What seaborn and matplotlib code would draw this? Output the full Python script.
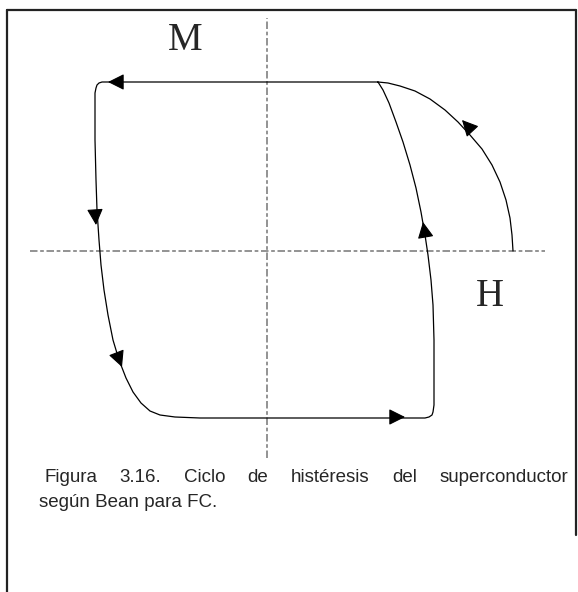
import numpy as np
import seaborn as sns
import matplotlib.pyplot as plt

# datos del ciclo (H, M), origen en el cruce de ejes
virgin_h = [246, 245, 243, 239, 233, 225, 215, 203, 191, 178, 163, 148, 133, 121, 111]
virgin_m = [0, 16, 33, 51, 69, 86, 102, 116, 129, 141, 152, 160, 165, 168, 169]

loop_h = [111, -157, -165, -168, -170, -171, -172, -172, -172, -171, -170, -168, -166, -163,
          -159, -154, -148, -141, -134, -126, -117, -107, -92, -67, 158, 162, 165, 166, 167,
          167, 167, 166, 164, 161, 158, 154, 149, 143, 136, 129, 122, 116, 111]
loop_m = [169, 169, 169, 168, 166, 163, 158, 151, 111, 71, 41, 11, -14, -39,
          -64, -89, -109, -127, -141, -152, -160, -164, -166, -167, -167, -166, -164, -161, -154,
          -129, -89, -54, -29, -4, 16, 39, 63, 86, 109, 129, 148, 161, 169]

# puntas de flecha (H, M) y curva a la que pertenecen
arrow_h = [-159, -171, -145, 138, 156, 195]
arrow_m = [169, 26, -116, -166, 29, 131]
arrow_curve = ['loop', 'loop', 'loop', 'loop', 'loop', 'virgin']

axis_h_span = [-237, 278]
axis_m_span = [-207, 233]

caption_1 = 'Figura 3.16. Ciclo de histéresis del superconductor'
caption_2 = 'según Bean para FC.'

sns.set_style('white')
plt.rcParams['font.family'] = ['Liberation Sans', 'DejaVu Sans']

W, H = 578, 592
fig = plt.figure(figsize=(W / 100, H / 100), dpi=100)
ax = fig.add_axes([0, 0, 1, 1])
ax.set_xlim(-267, W - 267)
ax.set_ylim(251 - H, 251)
ax.axis('off')

# ejes punteados
dash = (0, (4.5, 1.6, 2.2, 1.6))
ax.plot(axis_h_span, [0, 0], color='#808080', lw=1.2, linestyle=dash)
ax.plot([0, 0], axis_m_span, color='#808080', lw=1.2, linestyle=dash)

# curvas
sns.lineplot(x=virgin_h, y=virgin_m, sort=False, estimator=None, color='black', lw=0.9, ax=ax)
sns.lineplot(x=loop_h, y=loop_m, sort=False, estimator=None, color='black', lw=0.9, ax=ax)

curves = {'virgin': (np.array(virgin_h, float), np.array(virgin_m, float)),
          'loop': (np.array(loop_h, float), np.array(loop_m, float))}

for ah, am, name in zip(arrow_h, arrow_m, arrow_curve):
    ch, cm = curves[name]
    # segmento mas cercano para la direccion
    best, d = None, None
    for i in range(len(ch) - 1):
        p0 = np.array([ch[i], cm[i]])
        p1 = np.array([ch[i + 1], cm[i + 1]])
        seg = p1 - p0
        t = np.clip(np.dot([ah, am] - p0, seg) / np.dot(seg, seg), 0, 1)
        dist = np.linalg.norm(p0 + t * seg - [ah, am])
        if best is None or dist < best:
            best, d = dist, seg / np.linalg.norm(seg)
    tail = (ah - d[0] * 14, am - d[1] * 14)
    ax.annotate('', xy=(ah, am), xytext=tail,
                arrowprops=dict(arrowstyle='-|>,head_length=1.0,head_width=0.5',
                                mutation_scale=10, color='black', lw=0.8,
                                shrinkA=0, shrinkB=0))

ax.text(-82, 211, 'M', fontsize=28, family=['Liberation Serif', 'DejaVu Serif'],
        ha='center', va='center')
ax.text(223, -46, 'H', fontsize=28, family=['Liberation Serif', 'DejaVu Serif'],
        ha='center', va='center')

# marco
fig.add_artist(plt.Line2D([7 / W, 7 / W], [0, 1 - 10 / H], color='#222222', lw=1.6))
fig.add_artist(plt.Line2D([7 / W, 576 / W], [1 - 10 / H, 1 - 10 / H], color='#222222', lw=1.6))
fig.add_artist(plt.Line2D([576 / W, 576 / W], [1 - 10 / H, 1 - 535 / H], color='#222222', lw=1.6))

# pie de figura justificado
renderer = fig.canvas.get_renderer()
words = caption_1.split()
objs = [fig.text(0, 0, w, fontsize=13.5) for w in words]
widths = [o.get_window_extent(renderer).width for o in objs]
x0, x1 = 44, 568
gap = (x1 - x0 - sum(widths)) / (len(words) - 1)
x = x0
for o, w in zip(objs, widths):
    o.set_position((x / W, 1 - 482 / H))
    x += w + gap
fig.text(39 / W, 1 - 507 / H, caption_2, fontsize=13.5)

fig.savefig('out.png', dpi=100)
